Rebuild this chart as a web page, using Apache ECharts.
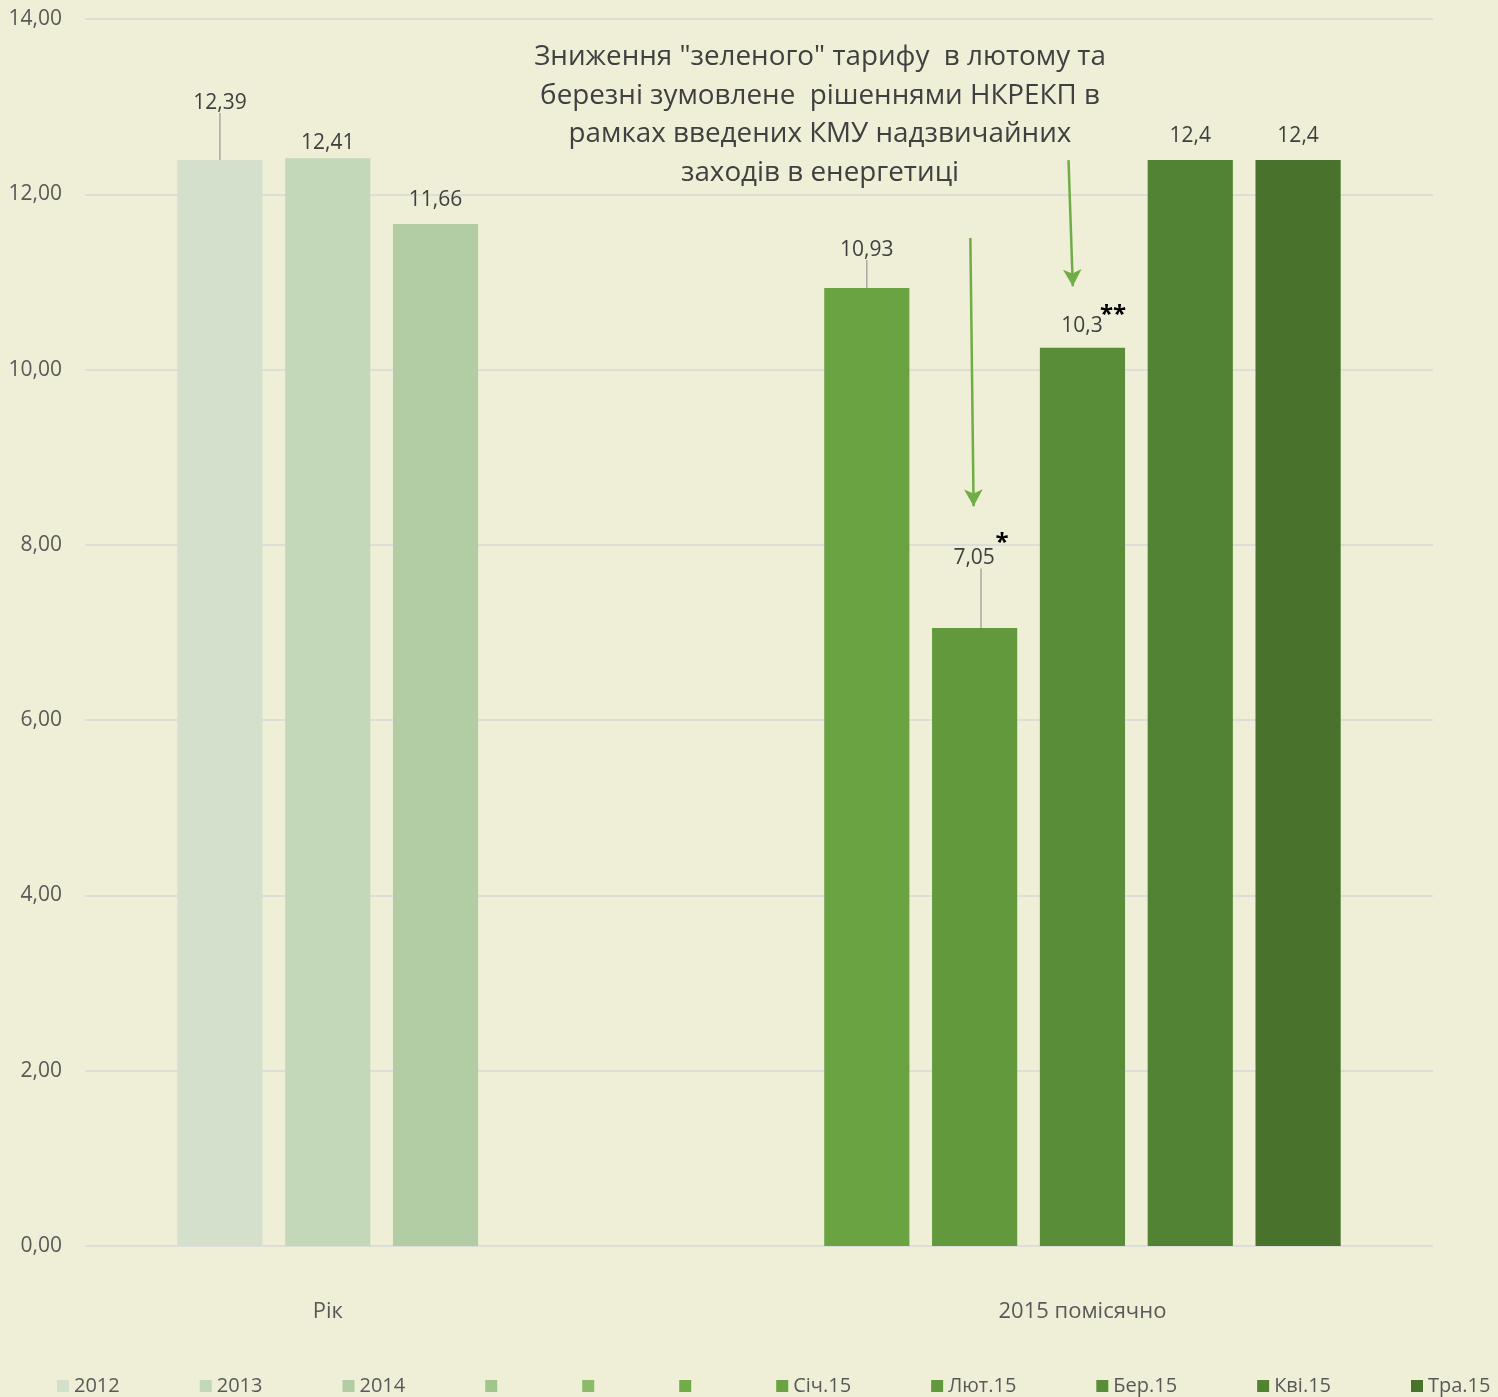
<!DOCTYPE html>
<html>
<head>
<meta charset="utf-8">
<script src="https://cdn.jsdelivr.net/npm/echarts@6/dist/echarts.min.js"></script>
<style>
  html, body { margin: 0; padding: 0; background: #efefd7; }
  #chart { width: 1498px; height: 1397px; }
</style>
</head>
<body>
<div id="chart"></div>
<script>
// one slot per series, blanks keep their place in the legend (zero-width names)
const seriesNames = ['2012', '2013', '2014', '\u200B', '\u200B\u200B', '\u200B\u200B\u200B', 'Січ.15', 'Лют.15', 'Бер.15', 'Кві.15', 'Тра.15']
const values = [12.39, 12.41, 11.66, null, null, null, 10.93, 7.05, 10.25, 12.39, 12.39]
const valueLabels = ['12,39', '12,41', '11,66', '', '', '', '10,93', '7,05', '10,3', '12,4', '12,4']
const footMarks = ['', '', '', '', '', '', '', '*', '**', '', '']
const groupLabels = ['', 'Рік', '', '', '', '', '', '', '2015 помісячно', '', '']
const yTicks = { min: 0, max: 14, interval: 2 }
const note = 'Зниження "зеленого" тарифу  в лютому та\nберезні зумовлене  рішеннями НКРЕКП в\nрамках введених КМУ надзвичайних\nзаходів в енергетиці'
// arrows in slot units (x) and tariff units (y): [xFrom, yFrom, xTo, yTo]
const arrows = [
  [6.96, 11.5, 6.99, 8.44],
  [7.87, 12.39, 7.91, 10.95]
]

const colors = ['#d4e0cb', '#c3d7b9', '#b2cda3', '#a1c68b', '#8cba6b', '#70ad47',
  '#69a342', '#62993d', '#5a8d38', '#518333', '#49722c']
// label placement: lift (with leader line), distance, asterisk raise and spacing
const labelLift = [42, 0, 0, 0, 0, 0, 23, 38, 0, 0, 0]
const labelDist = [5, 5, 14, 5, 5, 5, 5, 5, -1, 14, 14]
const markRaise = [0, 0, 0, 0, 0, 0, 0, 30, 22, 0, 0]
const markSpace = [0, 0, 0, 0, 0, 0, 0, 2, 3, 0, 0]

const fontFamily = '"Open Sans", "Noto Sans", sans-serif'

const series = seriesNames.map((name, i) => {
  const data = values.map((v, j) => (j === i ? v : null))
  return {
    name,
    type: 'bar',
    xAxisIndex: 1,
    yAxisIndex: 1,
    barGap: '-100%',
    barCategoryGap: '21%',
    itemStyle: { color: colors[i] },
    data,
    label: {
      show: true,
      position: 'top',
      distance: labelDist[i],
      fontFamily,
      formatter: () => {
        if (!footMarks[i]) return '{v|' + valueLabels[i] + '}'
        return '{v|' + valueLabels[i] + '}{s|' + ' '.repeat(markSpace[i]) + footMarks[i] + '}'
      },
      rich: {
        v: { fontSize: 21, color: '#404040', fontFamily },
        // the asterisks hang off the right edge so the number stays centred
        s: { fontSize: 24, fontWeight: 'bold', color: '#000', fontFamily, width: 0, align: 'left', padding: [0, 0, markRaise[i], 1] }
      }
    },
    labelLayout: labelLift[i] ? { dy: -labelLift[i] } : undefined,
    labelLine: {
      show: labelLift[i] > 0,
      lineStyle: { color: '#a6a6a6', width: 1.5 }
    },
    animation: false
  }
})

series.push({
  type: 'scatter',
  xAxisIndex: 0,
  yAxisIndex: 0,
  data: [],
  silent: true,
  markLine: {
    silent: true,
    symbol: ['none', 'arrow'],
    symbolSize: [14, 17],
    label: { show: false },
    lineStyle: { color: '#70ad47', width: 2.5, type: 'solid' },
    data: arrows.map(a => [{ coord: [a[0], a[1]] }, { coord: [a[2], a[3]] }])
  },
  animation: false
})

const chart = echarts.init(document.getElementById('chart'))
chart.setOption({
  backgroundColor: '#efefd7',
  textStyle: { fontFamily },
  grid: [
    { left: 85, right: 65, top: 19, bottom: 151 },
    { left: 166, right: 146, top: 19, bottom: 151 }
  ],
  xAxis: [
    { type: 'value', gridIndex: 0, min: -1.25, max: 11.25, show: false },
    {
      type: 'category',
      gridIndex: 1,
      data: seriesNames,
      axisLine: { show: false },
      axisTick: { show: false },
      axisLabel: {
        interval: 0,
        margin: 55,
        fontSize: 22,
        color: '#595959',
        fontFamily,
        formatter: (v, idx) => groupLabels[idx]
      }
    }
  ],
  yAxis: [
    {
      type: 'value',
      gridIndex: 0,
      min: yTicks.min,
      max: yTicks.max,
      interval: yTicks.interval,
      axisLine: { show: false },
      axisTick: { show: false },
      axisLabel: {
        margin: 23,
        fontSize: 21,
        color: '#595959',
        fontFamily,
        formatter: v => v.toFixed(2).replace('.', ',')
      },
      splitLine: { lineStyle: { color: '#d9d9d9', width: 1.5 } }
    },
    { type: 'value', gridIndex: 1, min: yTicks.min, max: yTicks.max, show: false }
  ],
  legend: {
    data: seriesNames,
    left: 57,
    top: 1376,
    width: 1441,
    padding: 0,
    itemWidth: 12,
    itemHeight: 12,
    itemGap: 80,
    icon: 'rect',
    textStyle: { fontSize: 20, color: '#595959', fontFamily }
  },
  graphic: [{
    type: 'text',
    x: 820,
    y: 38,
    style: {
      text: note,
      fill: '#404040',
      font: '27.8px ' + fontFamily,
      align: 'center',
      verticalAlign: 'top',
      lineHeight: 38.5
    }
  }],
  series
})
</script>
</body>
</html>
